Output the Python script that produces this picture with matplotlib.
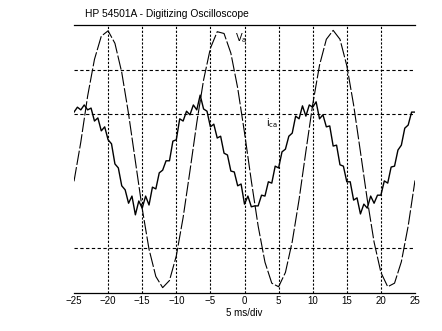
import matplotlib.pyplot as plt

# time axis, ms (0.5 ms steps for i_ca, 1 ms steps for Va)
t_ica = [i * 0.5 - 25 for i in range(101)]
t_va = list(range(-25, 26))

# i_ca trace (divisions)
ica = [1.05, 1.16, 1.10, 1.21, 1.10, 1.14, 0.85, 0.92, 0.63, 0.72,
       0.43, 0.34, -0.11, -0.20, -0.60, -0.69, -0.99, -0.83, -1.25, -0.94,
       -1.10, -0.83, -1.03, -0.63, -0.67, -0.31, -0.25, -0.04, -0.04, 0.40,
       0.43, 0.90, 0.85, 1.07, 0.99, 1.21, 1.10, 1.43, 1.12, 1.07,
       0.72, 0.78, 0.47, 0.51, 0.13, 0.09, -0.27, -0.29, -0.60, -0.56,
       -1.01, -0.83, -1.07, -1.05, -1.05, -0.81, -0.83, -0.51, -0.54, -0.16,
       -0.20, 0.16, 0.22, 0.51, 0.58, 0.96, 0.90, 1.19, 0.96, 1.21,
       1.16, 1.28, 0.90, 0.99, 0.72, 0.74, 0.29, 0.31, -0.13, -0.16,
       -0.51, -0.51, -0.92, -0.87, -1.23, -1.01, -1.10, -0.83, -0.99, -0.81,
       -0.81, -0.49, -0.54, -0.18, -0.16, 0.20, 0.31, 0.69, 0.76, 1.05,
       1.05]

# Va trace (divisions)
va = [-0.50, 0.38, 1.41, 2.23, 2.75, 2.87, 2.59, 1.94, 1.01, -0.05,
      -1.11, -2.02, -2.63, -2.88, -2.72, -2.17, -1.31, -0.27, 0.81, 1.77,
      2.48, 2.85, 2.81, 2.37, 1.59, 0.59, -0.49, -1.50, -2.31, -2.78,
      -2.86, -2.54, -1.85, -0.91, 0.17, 1.22, 2.10, 2.68, 2.88, 2.68,
      2.09, 1.21, 0.16, -0.91, -1.86, -2.54, -2.86, -2.78, -2.30, -1.50,
      -0.48]

xticks = [-25, -20, -15, -10, -5, 0, 5, 10, 15, 20, 25]
vgrid = [-20, -15, -10, -5, 0, 5, 10, 15, 20]
hgrid = [2, 1, -2]

fig = plt.figure(figsize=(4.42, 3.31), dpi=100)
ax = fig.add_axes([74 / 442, 38 / 331, 341 / 442, 268 / 331])

for x in vgrid:
    ax.axvline(x, color='black', lw=0.8, linestyle=(0, (2, 1.5)))
for y in hgrid:
    ax.axhline(y, color='black', lw=0.8, linestyle=(0, (3, 2.2)))

ax.plot(t_va, va, color='black', lw=0.8, linestyle=(0, (13, 2)))
ax.plot(t_ica, ica, color='black', lw=1.0)

ax.text(-1.4, 2.71, r'$\mathrm{V_a}$', fontsize=7, va='center')
ax.text(3.1, 0.80, r'$\mathrm{i_{ca}}$', fontsize=7, va='center')

ax.set_xlim(-25, 25)
ax.set_ylim(-3, 3)
ax.set_xticks(xticks)
ax.set_yticks([])
ax.tick_params(axis='x', length=0, pad=2.5, labelsize=7)
for lab in ax.get_xticklabels():
    lab.set_family('Liberation Sans')
ax.spines['left'].set_visible(False)
ax.spines['right'].set_visible(False)
ax.spines['top'].set_linewidth(0.9)
ax.spines['bottom'].set_linewidth(0.9)
ax.set_xlabel('5 ms/div', fontsize=7, family='Liberation Sans', labelpad=1)

fig.text(85 / 442, 1 - 14 / 331, 'HP 54501A - Digitizing Oscilloscope',
         fontsize=7.4, family='Liberation Sans', va='center')

fig.savefig('out.png', dpi=100)
